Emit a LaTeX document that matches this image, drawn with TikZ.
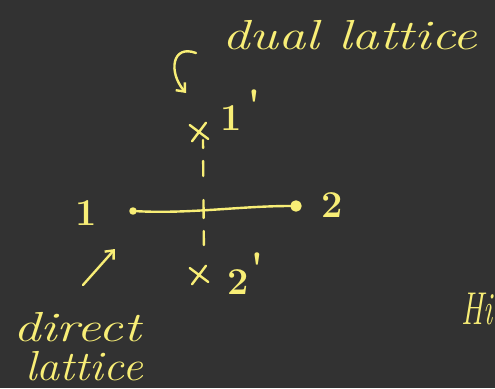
\documentclass[tikz,border=0pt]{standalone}
\usetikzlibrary{arrows.meta,shapes.misc}
\definecolor{board}{RGB}{50,50,50}
\definecolor{chalk}{RGB}{248,238,118}
\begin{document}
\begin{tikzpicture}[x=1pt,y=-1pt,
  ink/.style={draw=chalk,line width=2.4pt,line cap=round,line join=round},
  hand/.style={text=chalk,inner sep=0pt,font=\fontsize{42}{42}\selectfont\itshape},
  num/.style={text=chalk,inner sep=0pt,font=\fontsize{38}{38}\selectfont\bfseries},
  prm/.style={text=chalk,inner sep=0pt,font=\fontsize{44}{44}\selectfont\bfseries},
  site/.style={circle,ink,fill=chalk,inner sep=0pt},
  dualsite/.style={cross out,ink,inner sep=0pt,minimum size=14pt,rotate=8},
  tip/.style={-{Straight Barb[length=7pt,width=12pt]}}]
\fill[board] (0,0) rectangle (495,388);
\useasboundingbox (0,0) rectangle (495,388);
% direct lattice sites
\node[site,minimum size=5pt] (p1) at (133,211) {};
\node[site,minimum size=9pt] (p2) at (296,206) {};
\draw[ink] (p1) .. controls (190,214) and (240,206) .. (p2);
\node[num] (l1) at (86,213) {1};
\node[num] (l2) at (332,205) {2};
% dual lattice sites
\node[dualsite] (d1) at (199,132) {};
\node[dualsite] (d2) at (199,275) {};
\draw[ink,dash pattern=on 8pt off 13pt on 15pt off 24pt on 18pt off 13pt on 14pt off 30pt]
  (d1.center) ++(4,8) -- (204,263);
\node[num] (l1p) at (231,118) {1};
\node[prm,anchor=north] (q1) at (254,90) {\textquotesingle};
\node[num] (l2p) at (238,282) {2};
\node[prm,anchor=north] (q2) at (257,253) {\textquotesingle};
% dual lattice label and arrow
\node[hand,anchor=base west] (dual) at (222,49) {\scalebox{1.3}[1]{dual lattice}};
\coordinate (c1) at (196,53);
\coordinate (c2) at (186,93);
\draw[ink,tip] (c1) .. controls (172,44) and (168,72) .. (c2);
% direct lattice label and arrow
\node[hand,anchor=base west] (dir) at (13,341) {\scalebox{1.3}[1]{direct}};
\node[hand,anchor=base west] (lat) at (25,380) {\scalebox{1.1}[1]{lattice}};
\coordinate (a1) at (83,285);
\coordinate (a2) at (115,249);
\draw[ink,tip] (a1) -- (a2);
% text at the right edge
\node[hand,anchor=base west,font=\fontsize{46}{46}\selectfont\itshape] (hi) at (461,324) {\scalebox{0.66}[1]{Hi}};
\end{tikzpicture}
\end{document}
